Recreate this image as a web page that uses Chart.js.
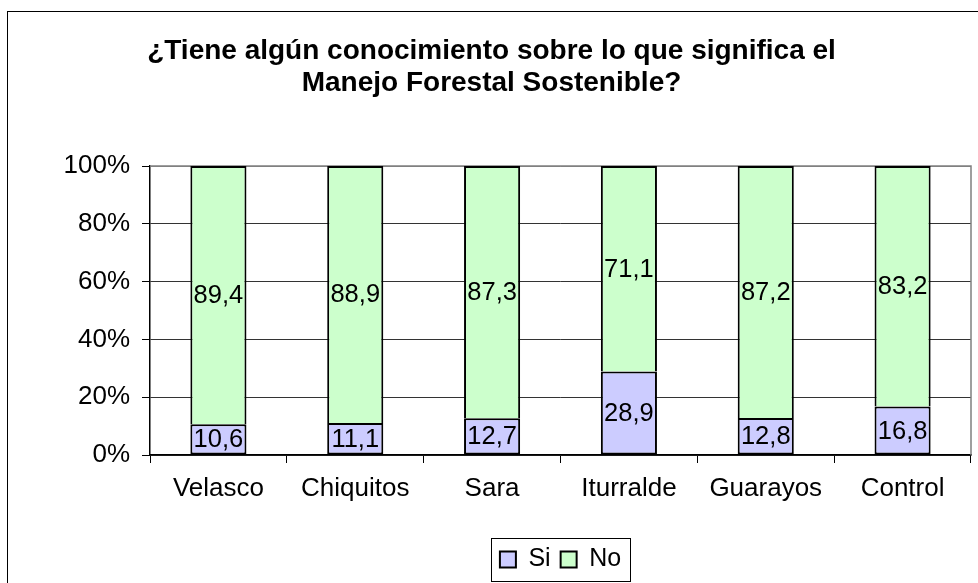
<!DOCTYPE html>
<html><head><meta charset="utf-8">
<script src="https://cdn.jsdelivr.net/npm/chart.js@4"></script>
<style>html,body{margin:0;padding:0;background:#fff}#wrap{width:978px;height:583px}</style>
</head><body><div id="wrap"><canvas id="c" width="978" height="583"></canvas></div>
<script>
const categories = ["Velasco", "Chiquitos", "Sara", "Iturralde", "Guarayos", "Control"];
const siValues = [10.6, 11.1, 12.7, 28.9, 12.8, 16.8];
const noValues = [89.4, 88.9, 87.3, 71.1, 87.2, 83.2];
const seriesNames = ["Si", "No"];
const titleLines = ["¿Tiene algún conocimiento sobre lo que significa el", "Manejo Forestal Sostenible?"];
const yTicks = [0, 20, 40, 60, 80, 100];

const FONT = "'Liberation Sans', Arial, sans-serif";

const deco = {
  id: 'deco',
  afterLayout(chart) {
    const lg = chart.legend;
    if (lg) { lg.left += 69; lg.right += 69; }
  },
  beforeDraw(chart) {
    const ctx = chart.ctx;
    ctx.save();
    ctx.fillStyle = '#fff';
    ctx.fillRect(0, 0, chart.width, chart.height);
    ctx.strokeStyle = '#000';
    ctx.lineWidth = 1;
    ctx.strokeRect(7.5, 11.5, 3000, 3000);
    ctx.restore();
  },
  beforeDatasetsDraw(chart) {
    const ctx = chart.ctx, a = chart.chartArea;
    ctx.save();
    ctx.strokeStyle = '#808080';
    ctx.lineWidth = 1.5;
    ctx.beginPath();
    ctx.moveTo(a.left, a.top); ctx.lineTo(a.right, a.top); ctx.lineTo(a.right, a.bottom);
    ctx.stroke();
    ctx.restore();
  },
  afterDatasetsDraw(chart) {
    const ctx = chart.ctx;
    ctx.save();
    ctx.font = "25.5px " + FONT;
    ctx.fillStyle = '#000';
    ctx.textAlign = 'center';
    ctx.textBaseline = 'middle';
    chart.data.datasets.forEach((ds, i) => {
      chart.getDatasetMeta(i).data.forEach((el, j) => {
        const y = (el.y + el.base) / 2;
        ctx.fillText(String(ds.data[j]).replace('.', ','), el.x, y + 1);
      });
    });
    ctx.restore();
  },
  afterDraw(chart) {
    const lg = chart.legend;
    if (!lg || !lg.legendHitBoxes.length) return;
    let x0 = Infinity, x1 = -Infinity, y0 = Infinity, y1 = -Infinity;
    lg.legendHitBoxes.forEach(b => {
      x0 = Math.min(x0, b.left); x1 = Math.max(x1, b.left + b.width);
      y0 = Math.min(y0, b.top); y1 = Math.max(y1, b.top + b.height);
    });
    const ctx = chart.ctx;
    ctx.save();
    ctx.strokeStyle = '#000';
    ctx.lineWidth = 1;
    ctx.strokeRect(Math.round(x0 - 9) + 0.5, Math.round(y0 - 9) + 0.5, Math.round(x1 - x0 + 18), Math.round(y1 - y0 + 18));
    ctx.restore();
  }
};

new Chart(document.getElementById('c'), {
  type: 'bar',
  data: {
    labels: categories,
    datasets: [
      { label: seriesNames[0], data: siValues, backgroundColor: '#CCCCFF', borderColor: '#000', borderWidth: 2, borderSkipped: false },
      { label: seriesNames[1], data: noValues, backgroundColor: '#CCFFCC', borderColor: '#000', borderWidth: 2, borderSkipped: 'bottom' }
    ]
  },
  plugins: [deco],
  options: {
    responsive: false,
    animation: false,
    barPercentage: 0.41,
    categoryPercentage: 1,
    layout: { padding: { left: 12, right: 7, top: 0, bottom: 1 } },
    plugins: {
      title: {
        display: true,
        text: titleLines,
        color: '#000',
        font: { family: FONT, size: 28, weight: 'bold', lineHeight: 1.143 },
        padding: { top: 35, bottom: 67 }
      },
      legend: {
        display: true,
        position: 'bottom',
        labels: {
          color: '#000',
          font: { family: FONT, size: 25 },
          boxWidth: 16, boxHeight: 16, padding: 10
        }
      },
      tooltip: { enabled: false }
    },
    scales: {
      x: {
        stacked: true,
        afterFit(s) { s.height = 82; },
        border: { display: true, color: '#000', width: 1.5 },
        grid: { offset: true, drawOnChartArea: false, drawTicks: true, tickLength: 8, tickColor: '#000', color: '#000' },
        ticks: { color: '#000', font: { family: FONT, size: 26 }, padding: 10, maxRotation: 0 }
      },
      y: {
        stacked: true,
        min: 0, max: 100,
        afterFit(s) { s.width = 138; },
        afterBuildTicks(s) { s.ticks = yTicks.map(v => ({ value: v })); },
        border: { display: true, color: '#000', width: 1.5 },
        grid: { color: (c) => c.tick && c.tick.value === 100 ? '#808080' : '#333', tickColor: '#000', tickLength: 8, lineWidth: 1 },
        ticks: { color: '#000', font: { family: FONT, size: 26 }, padding: 12, callback: v => v + '%' }
      }
    }
  }
});
</script>
</body></html>
